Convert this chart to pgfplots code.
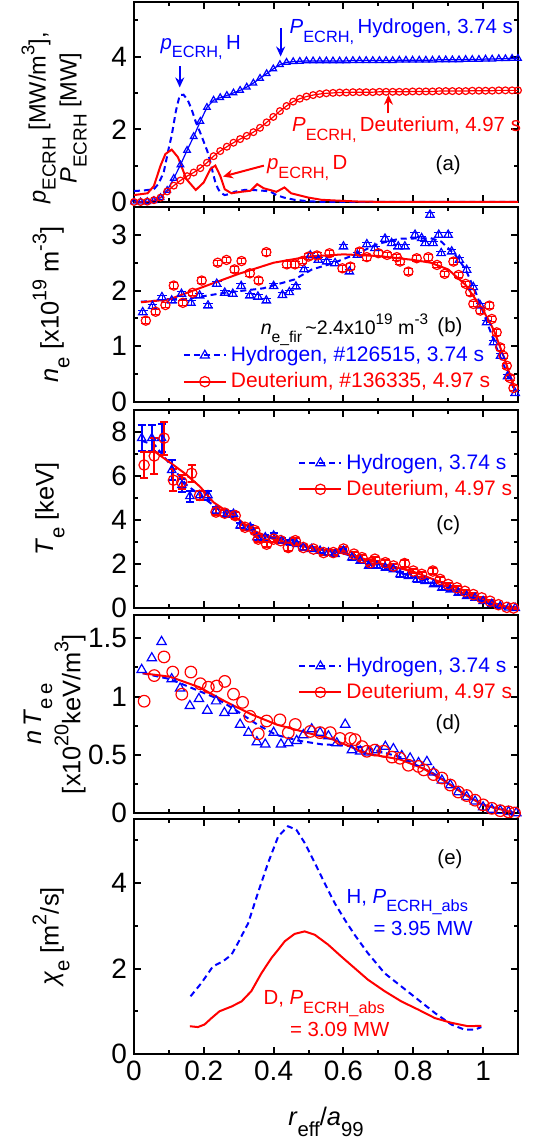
\documentclass[border=0pt]{standalone}
\usepackage{pgfplots}
\pgfplotsset{compat=1.18}
\usepackage{graphicx}
\usepackage{fontspec}
\setmainfont{Liberation Sans}
\usetikzlibrary{arrows.meta}
\definecolor{hb}{RGB}{0,0,255}
\definecolor{dr}{RGB}{255,0,0}
\newcommand{\ann}{\fontsize{10.2}{12}\selectfont}
\newcommand{\leg}{\fontsize{10.5}{12.5}\selectfont}
\newcommand{\sub}[1]{\raisebox{-0.42em}{\scalebox{0.8}{#1}}}
\newcommand{\sups}[1]{\raisebox{0.48em}{\scalebox{0.78}{#1}}}
\pgfplotsset{
 every tick label/.append style={font=\fontsize{14}{16}\selectfont},
 every axis label/.append style={font=\fontsize{12.7}{15.5}\selectfont},
 every axis legend/.append style={font=\leg},
 myaxis/.style={
  scale only axis, width=192pt, xmin=0, xmax=1.1,
  xtick={0,0.2,0.4,0.6,0.8,1}, minor xtick={0.1,0.3,0.5,0.7,0.9},
  tick pos=both, tick align=inside,
  axis line style={line width=1.3pt},
  every tick/.style={black, line width=1pt},
  major tick length=3.6pt, minor tick length=2.2pt,
  /pgf/number format/assume math mode=true,
  clip=false,
 },
 legstyle/.style={
  legend style={draw=none, fill=none, font=\leg, inner sep=0pt, row sep=0pt, cells={anchor=west}},
  legend image code/.code={\draw[mark repeat=2,mark phase=2,##1] plot coordinates {(0cm,0cm) (0.37cm,0cm) (0.74cm,0cm)};},
 },
 hline/.style={hb, line width=1pt, dash pattern=on 3pt off 2pt},
 dline/.style={dr, line width=1pt},
 hmark/.style={hb, line width=0.6pt, mark=triangle, mark size=2.4pt, only marks},
 dmark/.style={dr, line width=0.6pt, mark=o, mark size=2.3pt, only marks},
}
\begin{document}
\begin{tikzpicture}
% ---------------- (a)
\begin{axis}[myaxis, at={(0pt,-1pt)}, anchor=north west, height=100pt,
  ymin=0, ymax=5.5, ytick={0,2,4}, minor ytick={1,3,5}, xticklabels={},
  ylabel={\textit{p}\sub{ECRH} [MW/m\sups{3}],\\\textit{P}\sub{ECRH} [MW]},
  ylabel style={align=center, font=\fontsize{11.8}{15.5}\selectfont, at={(axis description cs:-0.208,0.42)}, anchor=center}]
\addplot[hline] coordinates {(0,0.30) (0.03,0.32) (0.057,0.35) (0.07,0.5) (0.085,0.81) (0.1,1.5) (0.108,1.83) (0.12,2.5) (0.131,2.94) (0.142,2.95) (0.154,2.8) (0.165,2.55) (0.177,2.2) (0.19,1.9) (0.2,1.65) (0.21,1.4) (0.219,1.09) (0.226,0.8) (0.233,0.54) (0.24,0.38) (0.247,0.26) (0.26,0.19) (0.275,0.22) (0.288,0.28) (0.316,0.33) (0.34,0.33) (0.37,0.31) (0.39,0.29) (0.408,0.19) (0.43,0.12) (0.46,0.06) (0.5,0.02) (0.55,0.0) (0.8,0.0) (1.1,0.0)};
\addplot[dline] coordinates {(0,0.19) (0.039,0.24) (0.057,0.44) (0.076,1.0) (0.09,1.32) (0.108,1.44) (0.126,1.23) (0.15,0.63) (0.177,0.33) (0.2,0.54) (0.219,0.91) (0.233,1.0) (0.247,0.72) (0.26,0.35) (0.279,0.24) (0.307,0.28) (0.334,0.31) (0.353,0.49) (0.371,0.38) (0.408,0.28) (0.431,0.4) (0.45,0.24) (0.5,0.12) (0.537,0.06) (0.6,0.03) (0.65,0.01) (0.75,0.0) (1.1,0.0)};
\addplot[hb, line width=0.6pt, mark=triangle, mark size=1.9pt] coordinates {(0.000,0.00) (0.019,0.00) (0.038,0.01) (0.057,0.04) (0.076,0.12) (0.095,0.32) (0.114,0.65) (0.133,1.02) (0.152,1.42) (0.171,1.80) (0.190,2.22) (0.209,2.60) (0.228,2.80) (0.247,2.87) (0.266,2.93) (0.285,3.00) (0.304,3.07) (0.323,3.16) (0.342,3.27) (0.361,3.40) (0.380,3.53) (0.399,3.66) (0.418,3.78) (0.437,3.84) (0.456,3.86) (0.475,3.87) (0.494,3.88) (0.513,3.88) (0.532,3.88) (0.551,3.88) (0.570,3.88) (0.589,3.88) (0.608,3.88) (0.627,3.89) (0.646,3.89) (0.665,3.89) (0.684,3.89) (0.703,3.89) (0.722,3.89) (0.741,3.89) (0.760,3.90) (0.779,3.90) (0.798,3.90) (0.817,3.90) (0.836,3.90) (0.855,3.90) (0.874,3.91) (0.893,3.91) (0.912,3.91) (0.931,3.91) (0.950,3.92) (0.969,3.92) (0.988,3.92) (1.007,3.93) (1.026,3.93) (1.045,3.94) (1.064,3.94) (1.083,3.95) (1.100,3.95)};
\addplot[dr, line width=0.6pt, mark=o, mark size=1.7pt] coordinates {(0.000,0.00) (0.019,0.00) (0.038,0.01) (0.057,0.05) (0.076,0.12) (0.095,0.29) (0.114,0.45) (0.133,0.59) (0.152,0.71) (0.171,0.81) (0.190,0.93) (0.209,1.08) (0.228,1.26) (0.247,1.40) (0.266,1.52) (0.285,1.63) (0.304,1.73) (0.323,1.82) (0.342,1.92) (0.361,2.04) (0.380,2.19) (0.399,2.34) (0.418,2.50) (0.437,2.64) (0.456,2.76) (0.475,2.84) (0.494,2.90) (0.513,2.94) (0.532,2.97) (0.551,2.99) (0.570,3.00) (0.589,3.01) (0.608,3.01) (0.627,3.02) (0.646,3.02) (0.665,3.02) (0.684,3.02) (0.703,3.03) (0.722,3.03) (0.741,3.03) (0.760,3.03) (0.779,3.03) (0.798,3.04) (0.817,3.04) (0.836,3.04) (0.855,3.04) (0.874,3.05) (0.893,3.05) (0.912,3.05) (0.931,3.05) (0.950,3.05) (0.969,3.06) (0.988,3.06) (1.007,3.06) (1.026,3.06) (1.045,3.07) (1.064,3.07) (1.083,3.07) (1.100,3.07)};
\node[anchor=base west, text=hb, font=\ann, inner sep=0pt] at (axis cs:0.075,4.2) {\textit{p}\sub{ECRH,}\,H};
\draw[hb, line width=1pt, -{Stealth[length=5pt,width=4.5pt]}] (axis cs:0.131,3.73) -- (axis cs:0.131,3.15);
\node[anchor=base west, text=hb, font=\ann, inner sep=0pt] at (axis cs:0.445,4.62) {\textit{P}\sub{ECRH,}\,Hydrogen, 3.74 s};
\draw[hb, line width=1pt, -{Stealth[length=5pt,width=4.5pt]}] (axis cs:0.42,4.78) -- (axis cs:0.42,4.0);
\node[anchor=base west, text=dr, font=\ann, inner sep=0pt] at (axis cs:0.452,1.93) {\textit{P}\sub{ECRH,}\,Deuterium, 4.97 s};
\draw[dr, line width=1pt, -{Stealth[length=5pt,width=4.5pt]}] (axis cs:0.729,2.44) -- (axis cs:0.729,2.95);
\node[anchor=base west, text=dr, font=\ann, inner sep=0pt] at (axis cs:0.38,0.88) {\textit{p}\sub{ECRH,}\,D};
\draw[dr, line width=1pt, -{Stealth[length=5pt,width=4.5pt]}] (axis cs:0.372,1.0) -- (axis cs:0.255,0.7);
\node[font=\ann] at (axis cs:0.9,1.0) {(a)};
\end{axis}
% ---------------- (b)
\begin{axis}[myaxis, legstyle, at={(0pt,-103.5pt)}, anchor=north west, height=97.5pt,
  ymin=0, ymax=3.5, ytick={0,1,2,3}, minor ytick={0.5,1.5,2.5}, xticklabels={},
  ylabel={\textit{n}\sub{e} [x10\sups{19} m\sups{-3}]},
  ylabel style={at={(axis description cs:-0.216,0.5)}, anchor=center},
  legend style={at={(axis description cs:0.126,0.035)}, anchor=south west}]
\addplot[hmark, forget plot, error bars/.cd, y dir=both, y fixed=0.04] coordinates {(0.025,1.61) (0.053,1.72) (0.080,1.88) (0.108,1.82) (0.136,1.94) (0.163,1.78) (0.188,1.91) (0.212,1.73) (0.237,2.12) (0.260,1.96) (0.283,1.94) (0.307,2.08) (0.332,1.91) (0.355,1.89) (0.379,1.82) (0.400,2.08) (0.425,1.92) (0.445,1.97) (0.464,2.07) (0.487,2.38) (0.505,2.63) (0.528,2.55) (0.552,2.52) (0.576,2.49) (0.600,2.79) (0.617,2.34) (0.640,2.64) (0.667,2.83) (0.690,2.76) (0.719,2.93) (0.738,2.85) (0.757,2.79) (0.776,2.79) (0.805,3.00) (0.824,2.94) (0.834,2.85) (0.848,3.36) (0.857,2.85) (0.873,3.00) (0.880,2.67) (0.900,3.00) (0.910,2.70) (0.932,2.55) (0.953,2.37) (0.972,2.06) (0.992,1.73) (1.010,1.43) (1.030,1.07) (1.050,0.83) (1.070,0.46) (1.092,0.16)};
\addplot[hline, forget plot] coordinates {(0.02,1.80) (0.15,1.85) (0.26,1.96) (0.37,2.04) (0.46,2.20) (0.51,2.38) (0.57,2.49) (0.63,2.64) (0.70,2.84) (0.76,2.93) (0.85,2.94) (0.88,2.88) (0.92,2.64) (0.95,2.38) (0.98,1.95) (1.01,1.45) (1.04,0.95) (1.07,0.50) (1.092,0.18)};
\addplot[dmark, forget plot, error bars/.cd, y dir=both, y fixed=0.05] coordinates {(0.034,1.46) (0.062,1.62) (0.090,1.74) (0.114,2.09) (0.140,1.78) (0.168,1.96) (0.194,2.18) (0.240,2.50) (0.265,2.55) (0.288,2.38) (0.308,2.53) (0.332,2.31) (0.357,2.18) (0.379,2.69) (0.438,2.47) (0.461,2.47) (0.482,2.53) (0.500,2.61) (0.524,2.63) (0.560,2.67) (0.597,2.40) (0.620,2.43) (0.646,2.70) (0.667,2.60) (0.700,2.67) (0.725,2.64) (0.753,2.60) (0.762,2.52) (0.786,2.34) (0.810,2.58) (0.843,2.60) (0.868,2.46) (0.890,2.30) (0.915,2.52) (0.930,2.28) (0.950,2.12) (0.963,1.97) (0.972,1.76) (0.992,1.64) (1.018,1.73) (1.025,1.49) (1.039,1.25) (1.049,0.98) (1.058,0.83) (1.068,0.65) (1.077,0.43) (1.087,0.25)};
\addplot[dline, forget plot] coordinates {(0.02,1.79) (0.10,1.84) (0.20,2.07) (0.30,2.30) (0.40,2.50) (0.50,2.61) (0.60,2.65) (0.70,2.62) (0.80,2.55) (0.85,2.50) (0.90,2.38) (0.95,2.10) (1.00,1.65) (1.03,1.30) (1.06,0.80) (1.09,0.25)};
\addlegendimage{hline, mark=triangle, mark size=2.6pt, mark options={solid, line width=0.6pt}}
\addlegendentry{\textcolor{hb}{Hydrogen, \#126515, 3.74 s}}
\addlegendimage{dline, mark=o, mark size=2.6pt, mark options={line width=0.6pt}}
\addlegendentry{\textcolor{dr}{Deuterium, \#136335, 4.97 s}}
\node[anchor=base west, font=\fontsize{9.8}{12}\selectfont, inner sep=0pt] at (axis cs:0.362,1.22) {\textit{n}\sub{e\_fir}\,\textasciitilde2.4x10\sups{19} m\sups{-3}};
\node[font=\ann] at (axis cs:0.905,1.34) {(b)};
\end{axis}
% ---------------- (c)
\begin{axis}[myaxis, legstyle, at={(0pt,-205pt)}, anchor=north west, height=99pt,
  ymin=0, ymax=9, ytick={0,2,4,6,8}, minor ytick={1,3,5,7}, xticklabels={},
  ylabel={\textit{T}\sub{e} [keV]},
  ylabel style={at={(axis description cs:-0.219,0.5)}, anchor=center},
  legend style={at={(axis description cs:0.427,0.80)}, anchor=north west}]
\addplot[hmark, forget plot, error bars/.cd, y dir=both, y explicit, error bar style={line width=1pt}, error mark options={rotate=90, mark size=2pt, line width=1pt}] coordinates {
(0.022,7.72) +- (0,0.60) (0.051,7.72) +- (0,0.60) (0.079,7.72) +- (0,0.65) (0.108,6.27) +- (0,0.45) (0.137,5.58) +- (0,0.30) (0.160,5.08) +- (0,0.25) (0.188,5.12) +- (0,0.20) (0.212,5.12) +- (0,0.20) (0.235,4.43) +- (0,0.15) (0.266,4.28) +- (0,0.15) (0.285,4.28) +- (0,0.15) (0.304,3.75) +- (0,0.12) (0.333,3.67) +- (0,0.12) (0.352,3.21) +- (0,0.12) (0.376,3.21) +- (0,0.12) (0.400,3.29) +- (0,0.12) (0.423,3.06) +- (0,0.10) (0.447,2.98) +- (0,0.10) (0.466,2.90) +- (0,0.10) (0.485,2.75) +- (0,0.10) (0.509,2.68) +- (0,0.10) (0.533,2.60) +- (0,0.10) (0.557,2.52) +- (0,0.10) (0.576,2.45) +- (0,0.10) (0.600,2.60) +- (0,0.10) (0.624,2.29) +- (0,0.10) (0.648,2.14) +- (0,0.10) (0.672,1.91) +- (0,0.10) (0.696,1.91) +- (0,0.10) (0.720,1.83) +- (0,0.10) (0.743,1.76) +- (0,0.10) (0.762,1.53) +- (0,0.10) (0.786,1.45) +- (0,0.10) (0.810,1.30) +- (0,0.10) (0.834,1.22) +- (0,0.10) (0.858,1.07) +- (0,0.08) (0.882,0.92) +- (0,0.08) (0.906,0.84) +- (0,0.08) (0.929,0.69) +- (0,0.08) (0.953,0.54) +- (0,0.08) (0.977,0.46) +- (0,0.05) (1.000,0.31) +- (0,0.05) (1.025,0.18) +- (0,0.05) (1.049,0.08) +- (0,0.05) (1.073,0.02) +- (0,0.03) (1.092,0.00) +- (0,0.03)};
\addplot[hline, forget plot] coordinates {(0.022,7.60) (0.060,7.40) (0.100,6.60) (0.150,5.60) (0.200,5.00) (0.250,4.40) (0.300,3.90) (0.350,3.40) (0.400,3.15) (0.500,2.75) (0.600,2.48) (0.700,1.95) (0.800,1.40) (0.900,0.90) (1.000,0.33) (1.050,0.10) (1.092,0.00)};
\addplot[dmark, mark size=2.6pt, forget plot, error bars/.cd, y dir=both, y explicit, error bar style={line width=1pt}, error mark options={rotate=90, mark size=2pt, line width=1pt}] coordinates {
(0.029,6.50) +- (0,0.60) (0.058,6.91) +- (0,0.80) (0.086,7.72) +- (0,0.75) (0.113,5.81) +- (0,0.50) (0.137,5.73) +- (0,0.30) (0.165,6.12) +- (0,0.40) (0.188,5.12) +- (0,0.20) (0.235,4.36) +- (0,0.15) (0.260,4.31) +- (0,0.15) (0.290,4.20) +- (0,0.15) (0.318,3.67) +- (0,0.12) (0.346,3.52) +- (0,0.12) (0.356,3.13) +- (0,0.12) (0.380,2.90) +- (0,0.12) (0.400,3.13) +- (0,0.12) (0.420,3.06) +- (0,0.10) (0.442,2.75) +- (0,0.15) (0.462,3.06) +- (0,0.10) (0.485,2.75) +- (0,0.10) (0.514,2.68) +- (0,0.10) (0.543,2.52) +- (0,0.10) (0.571,2.52) +- (0,0.10) (0.600,2.68) +- (0,0.10) (0.630,2.45) +- (0,0.10) (0.653,2.29) +- (0,0.10) (0.677,2.06) +- (0,0.10) (0.690,2.22) +- (0,0.10) (0.720,2.06) +- (0,0.10) (0.743,1.91) +- (0,0.10) (0.775,2.02) +- (0,0.15) (0.800,1.68) +- (0,0.10) (0.824,1.53) +- (0,0.10) (0.856,1.68) +- (0,0.15) (0.877,1.30) +- (0,0.10) (0.900,1.07) +- (0,0.08) (0.925,0.92) +- (0,0.08) (0.948,0.76) +- (0,0.08) (0.972,0.61) +- (0,0.08) (0.996,0.46) +- (0,0.05) (1.020,0.31) +- (0,0.05) (1.044,0.15) +- (0,0.05) (1.068,0.03) +- (0,0.03) (1.087,0.00) +- (0,0.03)};
\addplot[dline, forget plot] coordinates {(0.029,7.10) (0.060,7.10) (0.113,6.50) (0.152,6.04) (0.190,5.50) (0.228,4.80) (0.285,4.20) (0.342,3.52) (0.400,3.13) (0.500,2.75) (0.600,2.50) (0.700,2.05) (0.800,1.65) (0.900,1.05) (0.950,0.75) (1.000,0.42) (1.050,0.12) (1.090,0.00)};
\addlegendimage{hline, mark=triangle, mark size=2.6pt, mark options={solid, line width=0.6pt}}
\addlegendentry{\textcolor{hb}{Hydrogen, 3.74 s}}
\addlegendimage{dline, mark=o, mark size=2.6pt, mark options={line width=0.6pt}}
\addlegendentry{\textcolor{dr}{Deuterium, 4.97 s}}
\node[font=\ann] at (axis cs:0.9,3.75) {(c)};
\end{axis}
% ---------------- (d)
\begin{axis}[myaxis, legstyle, at={(0pt,-307.5pt)}, anchor=north west, height=99pt,
  ymin=0, ymax=1.7, ytick={0,0.5,1,1.5}, minor ytick={0.25,0.75,1.25}, xticklabels={},
  ylabel={\textit{n}\,\textit{T}\sub{e\,e}\\{}[x10\sups{20}keV/m\sups{3}]},
  ylabel style={align=center, at={(axis description cs:-0.206,0.5)}, anchor=center},
  legend style={at={(axis description cs:0.427,0.81)}, anchor=north west}]
\addplot[hmark, mark size=2.7pt, forget plot] coordinates {(0.022,1.23) (0.051,1.33) (0.079,1.47) (0.108,1.15) (0.132,1.07) (0.160,0.92) (0.186,0.98) (0.210,0.88) (0.235,0.96) (0.259,0.86) (0.283,0.88) (0.304,0.76) (0.328,0.69) (0.352,0.61) (0.376,0.59) (0.400,0.69) (0.421,0.59) (0.442,0.60) (0.466,0.62) (0.485,0.67) (0.509,0.72) (0.533,0.69) (0.557,0.66) (0.581,0.60) (0.605,0.76) (0.624,0.54) (0.648,0.53) (0.672,0.52) (0.696,0.54) (0.720,0.57) (0.743,0.55) (0.767,0.49) (0.791,0.47) (0.815,0.43) (0.839,0.44) (0.858,0.35) (0.882,0.28) (0.906,0.24) (0.929,0.18) (0.953,0.14) (0.977,0.10) (1.000,0.05) (1.025,0.03) (1.049,0.02) (1.073,0.01) (1.095,0.00)};
\addplot[hline, forget plot] coordinates {(0.025,1.20) (0.103,1.15) (0.168,1.07) (0.233,0.99) (0.288,0.89) (0.353,0.76) (0.408,0.67) (0.473,0.62) (0.537,0.59) (0.600,0.58) (0.667,0.56) (0.762,0.48) (0.858,0.34) (0.953,0.15) (1.000,0.07) (1.090,0.00)};
\addplot[dmark, mark size=2.9pt, forget plot] coordinates {(0.029,0.96) (0.058,1.18) (0.086,1.34) (0.111,1.21) (0.137,1.02) (0.163,1.21) (0.190,1.11) (0.213,1.08) (0.237,1.09) (0.260,1.13) (0.285,1.02) (0.311,0.95) (0.332,0.83) (0.356,0.68) (0.380,0.79) (0.418,0.80) (0.442,0.69) (0.462,0.76) (0.505,0.70) (0.533,0.69) (0.562,0.69) (0.590,0.64) (0.620,0.64) (0.633,0.63) (0.653,0.57) (0.667,0.53) (0.690,0.54) (0.715,0.53) (0.739,0.48) (0.762,0.47) (0.786,0.41) (0.815,0.40) (0.830,0.37) (0.858,0.33) (0.882,0.30) (0.906,0.24) (0.929,0.18) (0.953,0.15) (0.977,0.11) (1.000,0.07) (1.025,0.04) (1.049,0.02) (1.073,0.01) (1.090,0.00)};
\addplot[dline, forget plot] coordinates {(0.025,1.20) (0.103,1.17) (0.187,1.08) (0.260,0.96) (0.334,0.85) (0.408,0.76) (0.482,0.70) (0.571,0.63) (0.667,0.51) (0.762,0.46) (0.830,0.38) (0.887,0.28) (0.953,0.15) (1.000,0.07) (1.090,0.00)};
\addlegendimage{hline, mark=triangle, mark size=2.6pt, mark options={solid, line width=0.6pt}}
\addlegendentry{\textcolor{hb}{Hydrogen, 3.74 s}}
\addlegendimage{dline, mark=o, mark size=2.6pt, mark options={line width=0.6pt}}
\addlegendentry{\textcolor{dr}{Deuterium, 4.97 s}}
\node[font=\ann] at (axis cs:0.9,0.76) {(d)};
\end{axis}
% ---------------- (e)
\begin{axis}[myaxis, at={(0pt,-409.5pt)}, anchor=north west, height=117.5pt,
  ymin=0, ymax=5.5, ytick={0,2,4}, minor ytick={1,3,5},
  ylabel={\textit{χ}\sub{e} [m\sups{2}/s]},
  ylabel style={at={(axis description cs:-0.216,0.5)}, anchor=center},
  xlabel={\textit{r}\sub{eff}/\textit{a}\sub{99}},
  xlabel style={at={(axis description cs:0.5,-0.29)}, anchor=center}]
\addplot[hline] coordinates {(0.162,1.35) (0.193,1.66) (0.226,2.05) (0.255,2.17) (0.279,2.32) (0.298,2.60) (0.327,3.06) (0.355,3.77) (0.384,4.47) (0.413,5.09) (0.441,5.33) (0.465,5.25) (0.489,4.94) (0.518,4.47) (0.546,4.00) (0.575,3.53) (0.604,3.14) (0.632,2.79) (0.670,2.36) (0.718,1.89) (0.766,1.58) (0.814,1.27) (0.862,0.96) (0.909,0.69) (0.947,0.57) (0.976,0.57) (0.995,0.63)};
\addplot[dline] coordinates {(0.160,0.65) (0.183,0.63) (0.202,0.69) (0.222,0.84) (0.245,1.00) (0.279,1.11) (0.308,1.23) (0.336,1.47) (0.365,1.89) (0.394,2.25) (0.413,2.44) (0.432,2.64) (0.460,2.81) (0.489,2.87) (0.518,2.79) (0.556,2.56) (0.594,2.28) (0.632,2.01) (0.670,1.74) (0.718,1.47) (0.766,1.23) (0.814,1.04) (0.862,0.84) (0.909,0.73) (0.957,0.65) (0.995,0.66)};
\node[font=\ann] at (axis cs:0.905,4.55) {(e)};
\node[anchor=base west, text=hb, font=\ann, inner sep=0pt] at (axis cs:0.608,3.53) {H, \textit{P}\sub{ECRH\_abs}};
\node[anchor=base west, text=hb, font=\ann, inner sep=0pt] at (axis cs:0.685,2.77) {= 3.95 MW};
\node[anchor=base west, text=dr, font=\ann, inner sep=0pt] at (axis cs:0.37,1.15) {D, \textit{P}\sub{ECRH\_abs}};
\node[anchor=base west, text=dr, font=\ann, inner sep=0pt] at (axis cs:0.446,0.41) {= 3.09 MW};
\end{axis}
\pgfresetboundingbox
\useasboundingbox (-67pt,0pt) rectangle (201pt,-572pt);
\end{tikzpicture}
\end{document}
